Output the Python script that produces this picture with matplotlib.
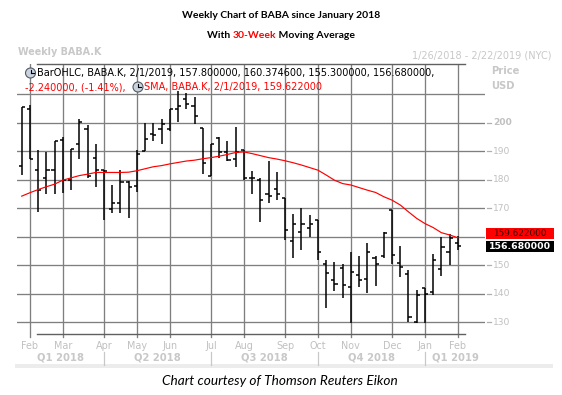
import matplotlib
matplotlib.use("Agg")
import matplotlib.pyplot as plt
import matplotlib.transforms as mtransforms
from matplotlib.patches import Rectangle, Ellipse
from matplotlib.lines import Line2D

# ---------------- data (weekly bars, index 0 = week ending 1/26/2018) ----------------
opens = [184.9, 204.9, 183.5, 180.4, 183.5, 194.0, 179.7, 192.3, 197.9, 187.7,
         183.3, 169.7, 171.9, 179.0, 177.8, 190.1, 196.1, 197.9, 197.9, 204.9,
         208.4, 205.7, 198.1, 181.4, 194.4, 189.7, 187.2, 190.3, 180.7, 180.0,
         175.1, 176.8, 173.6, 158.6, 161.5, 162.9, 165.8, 150.3, 144.8, 149.1,
         142.5, 146.5, 145.2, 152.4, 153.3, 169.2, 150.7, 146.8, 130.0, 142.1,
         140.7, 148.8, 154.7, 157.8]
highs = [205.3, 206.3, 190.5, 189.7, 193.5, 195.0, 190.7, 201.4, 199.3, 192.6,
         183.5, 178.1, 183.5, 179.5, 190.5, 199.9, 199.9, 201.4, 204.6, 211.0,
         210.2, 209.0, 198.1, 192.6, 195.0, 193.5, 198.5, 190.3, 183.1, 180.4,
         186.6, 182.7, 173.6, 167.9, 170.1, 167.6, 166.0, 152.0, 151.1, 150.5,
         154.6, 153.2, 157.8, 153.3, 161.5, 169.2, 156.6, 148.2, 141.3, 142.1,
         154.0, 159.8, 160.9, 160.3746]
lows = [181.6, 187.2, 168.7, 174.9, 175.1, 175.4, 176.3, 187.2, 180.5, 177.5,
        166.0, 168.4, 168.4, 166.4, 175.7, 190.1, 193.6, 192.6, 197.1, 200.2,
        204.9, 199.4, 182.1, 181.2, 187.4, 186.6, 184.5, 179.8, 174.9, 165.2,
        171.9, 172.8, 158.8, 152.7, 155.3, 160.0, 151.8, 135.1, 141.0, 138.4,
        129.9, 142.5, 140.1, 142.7, 152.5, 150.4, 146.0, 130.1, 129.8, 129.8,
        139.5, 146.2, 150.1, 155.3]
closes = [205.3, 187.2, 176.5, 183.5, 193.5, 180.0, 190.7, 200.2, 181.2, 183.4,
          183.0, 171.9, 179.0, 177.5, 188.9, 194.2, 195.6, 199.6, 204.6, 205.7,
          206.4, 202.2, 185.9, 192.4, 189.7, 187.0, 189.7, 180.7, 180.4, 172.8,
          174.2, 174.9, 162.3, 164.6, 164.6, 164.6, 154.5, 147.4, 143.3, 143.0,
          147.7, 144.8, 154.6, 150.5, 161.3, 153.5, 149.2, 131.9, 139.4, 140.0,
          151.7, 156.5, 159.4, 156.68]
sma30 = [174.2, 175.4, 176.5, 177.5, 178.4, 179.8, 180.6, 181.4, 181.9, 182.5,
         182.5, 182.5, 182.5, 182.6, 183.1, 183.8, 184.5, 184.9, 185.5, 186.0,
         186.5, 186.8, 187.3, 187.7, 188.2, 188.8, 189.5, 189.7, 189.1, 188.4,
         187.7, 187.2, 186.6, 185.9, 185.1, 184.2, 183.3, 181.6, 179.8, 178.6,
         178.1, 177.2, 176.3, 175.5, 174.0, 172.8, 171.1, 168.7, 166.4, 164.6,
         163.2, 161.4, 160.6, 159.622]

month_pos = [1, 5, 10, 14, 18, 23, 27, 32, 36, 40, 45, 49, 53]
month_labels = ["Feb", "Mar", "Apr", "May", "Jun", "Jul", "Aug", "Sep", "Oct",
                "Nov", "Dec", "Jan", "Feb"]
quarter_bounds = [10, 23, 36, 49]
quarter_labels = ["Q1 2018", "Q2 2018", "Q3 2018", "Q4 2018", "Q1 2019"]
price_ticks = [130, 140, 150, 160, 170, 180, 190, 200, 210]
price_labels = [130, 140, 150, 170, 180, 190, 200]

last_sma = 159.622000
last_close = 156.680000

# ---------------- figure ----------------
W, H = 562, 395
fig = plt.figure(figsize=(W / 100, H / 100), dpi=100)
fig.patch.set_facecolor("white")
renderer = fig.canvas.get_renderer()

def fx(px):
    return px / W

def fy(py):
    return 1 - py / H

ax = fig.add_axes([fx(17), fy(334), (485 - 17) / W, (334 - 64) / H])
ax.set_xlim(-0.57, 56.3)
ax.set_ylim(125.9, 220.5)
for s in ax.spines.values():
    s.set_visible(False)
ax.set_xticks([])
ax.set_yticks([])
ax.patch.set_alpha(0)

grid_c = "#7f7f7f"
bx_ax = mtransforms.blended_transform_factory(ax.transData, ax.transAxes)
for p in price_ticks:
    ax.axhline(p, color=grid_c, lw=0.95, zorder=1)
for m in month_pos:
    ax.axvline(m, color=grid_c, lw=0.95, zorder=1)
    ax.plot([m, m], [0, -0.012], transform=bx_ax, color=grid_c, lw=0.95, clip_on=False)

# frame-like lines at top and bottom
for yy in (0, 1):
    ax.plot([0.043, 0.957], [yy, yy], transform=ax.transAxes, color="#606060",
            lw=1.0, clip_on=False, zorder=2)

# OHLC bars
xs = list(range(len(opens)))
tw = 0.38
ax.vlines(xs, lows, highs, color="black", lw=1.1, zorder=4)
ax.hlines(opens, [x - tw for x in xs], xs, color="black", lw=1.1, zorder=4)
ax.hlines(closes, xs, [x + tw for x in xs], color="black", lw=1.1, zorder=4)

# SMA
ax.plot(xs, sma30, color="#ff0000", lw=0.85, zorder=5)

# ---------------- axis labels ----------------
lbl_c = "#c0c0c0"
bx = mtransforms.blended_transform_factory(ax.transData, fig.transFigure)
for m, lab in zip(month_pos, month_labels):
    fig.text(m, fy(346), lab, transform=bx, ha="center", va="center",
             fontsize=6.9, color=lbl_c)

qb = [-0.57] + quarter_bounds + [56.3]
for i, lab in enumerate(quarter_labels):
    fig.text((qb[i] + qb[i + 1]) / 2, fy(358), lab, transform=bx, ha="center",
             va="center", fontsize=7.2, fontweight="bold", color="#c8c8c8")
for b in quarter_bounds:
    fig.add_artist(Line2D([b, b], [fy(352), fy(365)], transform=bx, color="#c8c8c8", lw=0.9))

fig.add_artist(Rectangle((fx(15), fy(368)), fx(553) - fx(15), (368 - 364) / H,
                         transform=fig.transFigure, color="#ececec", lw=0))

by = mtransforms.blended_transform_factory(fig.transFigure, ax.transData)
for p in price_labels:
    fig.add_artist(Line2D([fx(486.5), fx(491)], [p, p], transform=by, color="#b0b0b0", lw=0.9))
    fig.text(fx(493), p, str(p), transform=by, ha="left", va="center",
             fontsize=6.6, color=lbl_c, fontweight="bold" if p == 200 else "normal")

fig.text(fx(491), fy(71), "Price", ha="left", va="center", fontsize=7.2,
         fontweight="bold", color="#c8c8c8")
fig.text(fx(491), fy(86), "USD", ha="left", va="center", fontsize=7.2,
         fontweight="bold", color="#c8c8c8")

# value boxes
fig.add_artist(Rectangle((fx(486), fy(252)), fx(554) - fx(486), 11 / H,
                         transform=fig.transFigure, color="black", lw=0, zorder=6))
fig.text(fx(520), fy(246.5), f"{last_close:.6f}", ha="center", va="center",
         fontsize=6.7, fontweight="bold", color="white", zorder=7)
fig.add_artist(Rectangle((fx(486), fy(239)), fx(554) - fx(486), 11 / H,
                         transform=fig.transFigure, color="#ff0000", lw=0, zorder=6))
fig.text(fx(520), fy(233.5), f"{last_sma:.6f}", ha="center", va="center",
         fontsize=6.4, color="#300000", zorder=7)

# ---------------- header texts ----------------
def fit_text(x, y, s, width, ha="left", **kw):
    t = fig.text(fx(x), fy(y), s, ha=ha, va="center", fontsize=10, **kw)
    w = t.get_window_extent(renderer).width
    t.set_fontsize(10 * width / w)
    return t

t1 = fit_text(281, 15, "Weekly Chart of BABA since January 2018", 198, ha="center",
              fontweight="bold", family="Lato", color="black")
tsize = t1.get_fontsize()
parts = [("With ", "black"), ("30-Week", "#ff0000"), (" Moving Average", "black")]
widths = []
for s, c in parts:
    tt = fig.text(0, 0, s, fontsize=tsize, fontweight="bold", family="Lato")
    widths.append(tt.get_window_extent(renderer).width)
    tt.remove()
x0 = 281 - sum(widths) / 2
for (s, c), w in zip(parts, widths):
    fig.text(fx(x0), fy(35), s, ha="left", va="center", fontsize=tsize,
             fontweight="bold", family="Lato", color=c)
    x0 += w

fit_text(18, 52, "Weekly BABA.K", 84, fontweight="bold", color="#c8c8c8")
fit_text(552, 55, "1/26/2018 - 2/22/2019 (NYC)", 140, ha="right", color="#c8c8c8")

lt = fit_text(37, 73, "BarOHLC, BABA.K, 2/1/2019, 157.800000, 160.374600, 155.300000, 156.680000,",
              400, color="black")
lsize = lt.get_fontsize()
fig.text(fx(25), fy(87), "-2.240000, (-1.41%), ", ha="left", va="center",
         fontsize=lsize, color="#ff0000")
fig.text(fx(144), fy(87), "SMA, BABA.K, 2/1/2019, 159.622000", ha="left", va="center",
         fontsize=lsize, color="#ff0000")

def clock(x, y):
    fig.add_artist(Ellipse((fx(x), fy(y)), 10 / W, 10 / H, transform=fig.transFigure,
                           facecolor="#c9d3de", edgecolor="#505a66", lw=0.8, zorder=8))
    fig.add_artist(Line2D([fx(x), fx(x)], [fy(y), fy(y - 3.5)], transform=fig.transFigure,
                          color="black", lw=0.8, zorder=9))
    fig.add_artist(Line2D([fx(x), fx(x + 3)], [fy(y), fy(y)], transform=fig.transFigure,
                          color="black", lw=0.8, zorder=9))

clock(30.5, 73)
clock(138, 87)

fit_text(280, 381, "Chart courtesy of Thomson Reuters Eikon", 235, ha="center",
         style="italic", family="Lato", color="black")

fig.savefig("out.png", dpi=100, facecolor="white")
